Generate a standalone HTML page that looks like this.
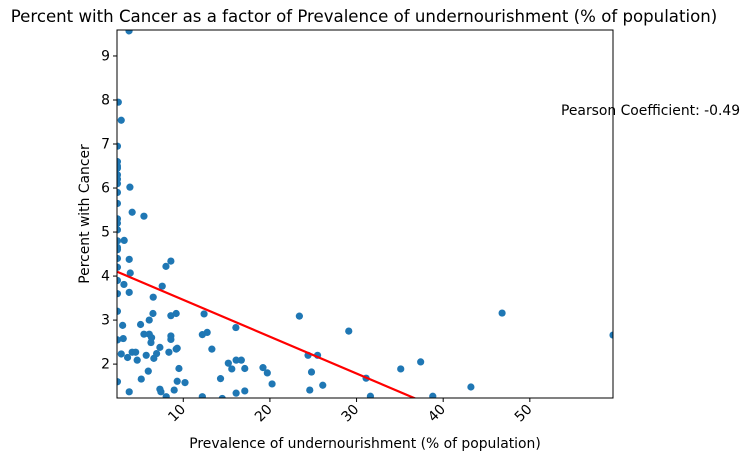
<!DOCTYPE html>
<html><head><meta charset="utf-8"><style>
body{margin:0;background:#fff;}
svg text{font-family:"DejaVu Sans","Liberation Sans",sans-serif;fill:#000;}
</style></head><body>
<svg id="chart" width="750" height="461" xmlns="http://www.w3.org/2000/svg">
<defs><clipPath id="clip"><rect x="117" y="30" width="496" height="368"/></clipPath></defs>
<text x="364" y="22" text-anchor="middle" font-size="16.6">Percent with Cancer as a factor of Prevalence of undernourishment (% of population)</text>
<g id="points" clip-path="url(#clip)"></g>
<g id="fit" clip-path="url(#clip)"></g>
<rect x="117" y="30" width="496" height="368" fill="none" stroke="#000" stroke-width="1"/>
<g id="xaxis"></g>
<g id="yaxis"></g>
<text x="365" y="448" text-anchor="middle" font-size="13.9">Prevalence of undernourishment (% of population)</text>
<text transform="translate(89,214) rotate(-90)" text-anchor="middle" font-size="13.9">Percent with Cancer</text>
<text x="561" y="115" font-size="13.9">Pearson Coefficient: -0.49</text>
</svg>
<script>
const xVals=[3.74,2.5,2.84,2.4,2.4,2.4,2.4,2.4,2.4,2.4,2.4,2.4,2.4,2.4,2.4,2.4,2.4,2.4,2.4,2.4,2.4,2.4,2.4,2.4,2.4,3.84,4.1,5.46,3.18,3.76,3.88,3.15,3.76,8.0,8.57,7.57,6.53,6.5,6.07,5.07,3.0,8.57,9.18,5.46,6.07,6.34,6.27,8.57,8.57,7.3,3.07,2.84,4.1,4.5,3.57,4.68,5.72,6.92,6.6,8.34,9.18,9.3,9.5,5.96,5.15,9.3,10.2,7.3,7.42,8.95,3.76,8.03,12.4,12.2,12.76,13.3,16.1,16.07,15.2,15.6,16.7,17.1,14.3,19.2,19.7,20.25,12.2,14.5,16.1,17.1,23.4,29.1,24.4,25.5,24.8,24.6,26.1,31.1,31.6,35.1,37.4,38.8,43.2,46.8,59.6];
const yVals=[9.57,7.95,7.54,6.95,6.6,6.5,6.45,6.3,6.2,6.1,5.9,5.65,5.3,5.2,5.05,4.8,4.65,4.6,4.4,4.2,3.9,3.6,3.2,2.55,1.6,6.02,5.45,5.36,4.81,4.38,4.07,3.81,3.63,4.22,4.34,3.77,3.52,3.15,3.0,2.9,2.88,3.1,3.15,2.68,2.68,2.6,2.49,2.64,2.56,2.38,2.58,2.23,2.27,2.27,2.15,2.09,2.2,2.24,2.13,2.27,2.34,2.36,1.9,1.84,1.66,1.61,1.58,1.43,1.37,1.41,1.37,1.26,3.14,2.67,2.72,2.34,2.09,2.83,2.02,1.89,2.09,1.9,1.67,1.92,1.80,1.55,1.26,1.22,1.34,1.39,3.09,2.75,2.2,2.2,1.82,1.41,1.52,1.68,1.27,1.89,2.05,1.27,1.48,3.16,2.66];
const fitCoef=[-0.0837,4.297];
const xTicks=[10,20,30,40,50];
const yTicks=[2,3,4,5,6,7,8,9];
const xMin=2.35,xMax=59.6,yMin=1.23,yMax=9.59;
const L=117,R=613,T=30,B=398;
const NS="http://www.w3.org/2000/svg";
function sx(v){return L+(v-xMin)/(xMax-xMin)*(R-L);}
function sy(v){return B-(v-yMin)/(yMax-yMin)*(B-T);}
function mk(tag,attrs,parent){const e=document.createElementNS(NS,tag);for(const k in attrs)e.setAttribute(k,attrs[k]);parent.appendChild(e);return e;}
const pg=document.getElementById('points');
xVals.forEach((x,i)=>{
 const c=mk('circle',{cx:sx(x),cy:sy(yVals[i]),r:3.6,fill:'#1f77b4'},pg);
 
 
});
const slope=fitCoef[0],icpt=fitCoef[1];
const x0=Math.min(...xVals),x1=Math.max(...xVals);
const ln=mk('line',{x1:sx(x0),y1:sy(icpt+slope*x0),x2:sx(x1),y2:sy(icpt+slope*x1),stroke:'#ff0000','stroke-width':2.2},document.getElementById('fit'));


const xa=document.getElementById('xaxis');
xTicks.forEach(t=>{
 const x=sx(t);
 const tk=mk('line',{x1:x,y1:B,x2:x,y2:B+4,stroke:'#000'},xa);
 
 
 const tx=mk('text',{x:x+3,y:B+12,'font-size':13.9,'text-anchor':'end',transform:`rotate(-45 ${x+3} ${B+12})`},xa);
 tx.textContent=t;
 
 
});
const ya=document.getElementById('yaxis');
yTicks.forEach(t=>{
 const y=sy(t);
 const tk=mk('line',{x1:L-4,y1:y,x2:L,y2:y,stroke:'#000'},ya);
 
 
 const tx=mk('text',{x:L-7,y:y+4.5,'font-size':13.9,'text-anchor':'end'},ya);
 tx.textContent=t;
 
 
});
</script>
</body></html>
